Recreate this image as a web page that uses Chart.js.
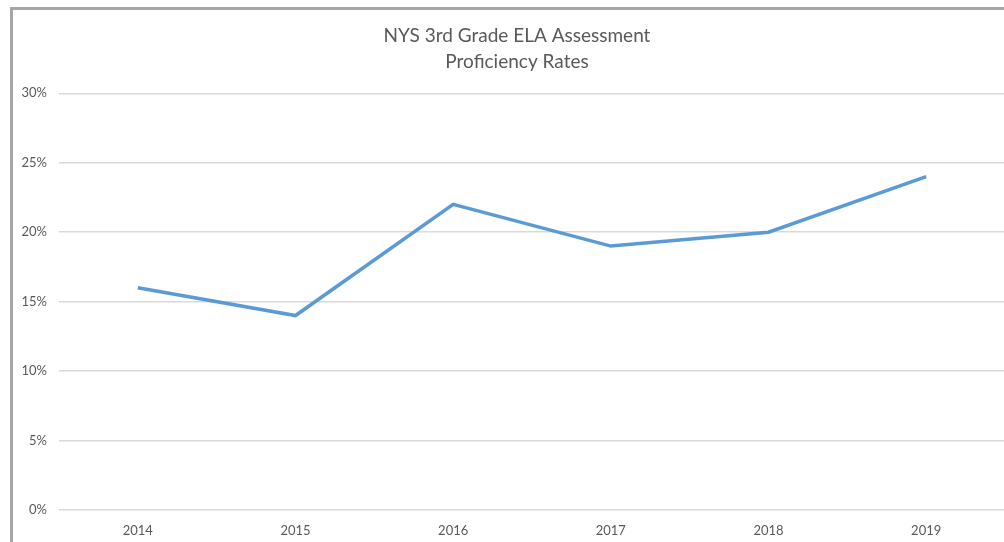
<!DOCTYPE html>
<html>
<head>
<meta charset="utf-8">
<script src="https://cdn.jsdelivr.net/npm/chart.js@4/dist/chart.umd.min.js"></script>
<style>
  html, body { margin: 0; padding: 0; background: #fff; overflow: hidden; }
  #frame {
    position: absolute; left: 10px; top: 7px;
    width: 1010px; height: 540px;
    border-left: 3px solid #a6a6a6;
    border-top: 3px solid #a6a6a6;
  }
  #wrap { position: absolute; left: 0; top: 0; width: 1008px; height: 532px; }
</style>
</head>
<body>
<div id="frame">
  <div id="wrap"><canvas id="myChart"></canvas></div>
</div>
<script>
// Chart data
const years = ["2014", "2015", "2016", "2017", "2018", "2019"];
const proficiency = [16, 14, 22, 19, 20, 24];
const titleLines = ["NYS 3rd Grade ELA Assessment", "Proficiency Rates"];

const textColor = "#595959";
const gridColor = "#d9d9d9";

const ctx = document.getElementById("myChart").getContext("2d");
new Chart(ctx, {
  type: "line",
  data: {
    labels: years,
    datasets: [{
      label: "Proficiency",
      data: proficiency,
      borderColor: "#5b9bd5",
      borderWidth: 3.5,
      pointRadius: 0,
      tension: 0,
      fill: false
    }]
  },
  options: {
    responsive: true,
    maintainAspectRatio: false,
    animation: false,
    layout: { padding: 0 },
    plugins: {
      legend: { display: false },
      tooltip: { enabled: false },
      title: {
        display: true,
        text: titleLines,
        color: textColor,
        font: { family: "Lato", size: 19, weight: "normal", lineHeight: 1.35 },
        padding: { top: 13, bottom: 19 }
      }
    },
    scales: {
      x: {
        offset: true,
        grid: { display: false },
        border: { display: false },
        ticks: { color: textColor, font: { family: "Lato", size: 13 }, padding: 5, maxRotation: 0 },
        afterFit: (scale) => { scale.height = 32; }
      },
      y: {
        min: 0,
        max: 30,
        grid: { color: gridColor, lineWidth: 1.5, drawTicks: false },
        border: { display: false },
        ticks: {
          stepSize: 5,
          color: textColor,
          font: { family: "Lato", size: 13 },
          padding: 12,
          callback: (v) => v + "%"
        },
        afterFit: (scale) => { scale.width = 46; }
      },
      // empty right axis: keeps the plot area off-centre like the original
      yRight: {
        position: "right",
        min: 0,
        max: 30,
        grid: { display: false },
        border: { display: false },
        ticks: { display: false },
        afterFit: (scale) => { scale.width = 16; }
      }
    }
  }
});
</script>
</body>
</html>
